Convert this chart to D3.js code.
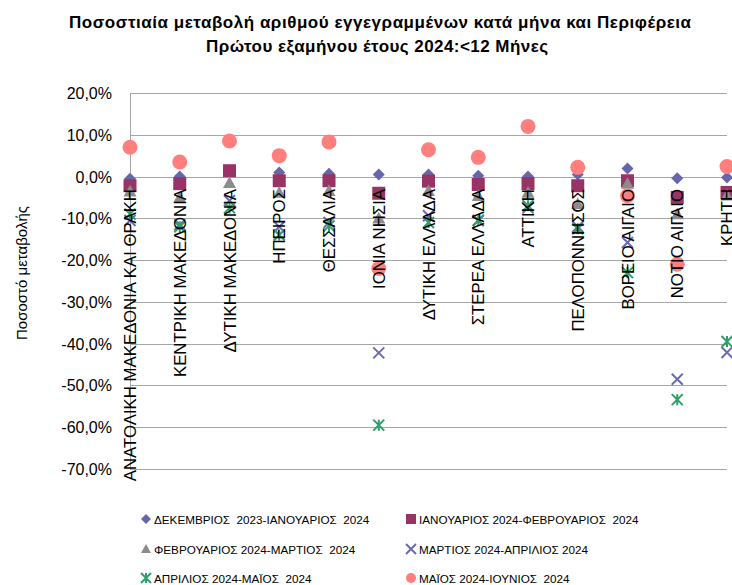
<!DOCTYPE html>
<html>
<head>
<meta charset="utf-8">
<script src="https://cdn.jsdelivr.net/npm/d3@7"></script>
<style>
  body { margin: 0; background: #fff; }
  svg { display: block; }
</style>
</head>
<body>
<div id="body"></div>
<script>
var categories = [
  "ΑΝΑΤΟΛΙΚΗ ΜΑΚΕΔΟΝΙΑ ΚΑΙ ΘΡΑΚΗ", "ΚΕΝΤΡΙΚΗ ΜΑΚΕΔΟΝΙΑ", "ΔΥΤΙΚΗ ΜΑΚΕΔΟΝΙΑ",
  "ΗΠΕΙΡΟΣ", "ΘΕΣΣΑΛΙΑ", "ΙΟΝΙΑ ΝΗΣΙΑ", "ΔΥΤΙΚΗ ΕΛΛΑΔΑ", "ΣΤΕΡΕΑ ΕΛΛΑΔΑ",
  "ΑΤΤΙΚΗ", "ΠΕΛΟΠΟΝΝΗΣΟΣ", "ΒΟΡΕΙΟ ΑΙΓΑΙΟ", "ΝΟΤΙΟ ΑΙΓΑΙΟ", "ΚΡΗΤΗ"
];

var decJan = [-0.5, 0.0, 1.2, 1.0, 0.7, 0.5, 0.5, 0.2, 0.0, 0.5, 1.9, -0.4, -0.2];
var janFeb = [-2.2, -1.7, 1.4, -1.0, -1.0, -4.0, -1.1, -1.9, -1.7, -2.2, -1.0, -5.0, -3.8];
var febMar = [-3.5, -5.0, -1.5, -3.8, -3.4, -10.0, -3.4, -4.6, -3.8, -6.5, -1.7, -9.0, -4.5];
var marApr = [-10.5, -11.5, -5.8, -12.0, -11.0, -42.2, -9.4, -10.5, -7.5, -12.0, -15.8, -48.5, -42.1];
var aprMay = [-9.0, -12.0, -7.5, -14.0, -11.8, -59.5, -11.0, -10.5, -7.0, -12.5, -23.0, -53.4, -39.5];
var mayJun = [7.0, 3.5, 8.5, 5.0, 8.3, -22.0, 6.4, 4.6, 12.0, 2.2, -4.6, -21.0, 2.4];

var seriesNames = [
  "ΔΕΚΕΜΒΡΙΟΣ  2023-ΙΑΝΟΥΑΡΙΟΣ  2024",
  "ΙΑΝΟΥΑΡΙΟΣ 2024-ΦΕΒΡΟΥΑΡΙΟΣ  2024",
  "ΦΕΒΡΟΥΑΡΙΟΣ 2024-ΜΑΡΤΙΟΣ  2024",
  "ΜΑΡΤΙΟΣ 2024-ΑΠΡΙΛΙΟΣ 2024",
  "ΑΠΡΙΛΙΟΣ 2024-ΜΑΪΟΣ  2024",
  "ΜΑΪΟΣ 2024-ΙΟΥΝΙΟΣ  2024"
];

var yTicks = [20, 10, 0, -10, -20, -30, -40, -50, -60, -70];

var width = 732;
var height = 585;
var font = "'Liberation Sans', Arial, sans-serif";

var colors = ["#6666aa", "#993366", "#8c8c8c", "#6a6ab4", "#2e9e6a", "#ff7f7f"];
var shapes = ["diamond", "square", "triangle", "x", "star", "circle"];
var allValues = [decJan, janFeb, febMar, marApr, aprMay, mayJun];

var svg = d3.select("#body").append("svg")
  .attr("width", width)
  .attr("height", height);

var xScale = d3.scalePoint().domain(categories).range([130, 727]);
var yScale = d3.scaleLinear().domain([-70, 20]).range([469, 93]);

// marker path generator
function markerPath(shape, s) {
  var h = s / 2;
  if (shape === "diamond") return "M0," + (-h) + "L" + h + ",0L0," + h + "L" + (-h) + ",0Z";
  if (shape === "square") return "M" + (-h) + "," + (-h) + "h" + s + "v" + s + "h" + (-s) + "Z";
  if (shape === "triangle") return "M0," + (-h) + "L" + h + "," + (h * 0.8) + "L" + (-h) + "," + (h * 0.8) + "Z";
  if (shape === "x") return "M" + (-h) + "," + (-h) + "L" + h + "," + h + "M" + h + "," + (-h) + "L" + (-h) + "," + h;
  if (shape === "star") return "M" + (-h) + "," + (-h) + "L" + h + "," + h + "M" + h + "," + (-h) + "L" + (-h) + "," + h + "M0," + (-h) + "L0," + h;
  return d3.symbol().type(d3.symbolCircle).size(Math.PI * h * h)();
}

function drawMarker(g, shape, color, s) {
  var p = g.append("path").attr("d", markerPath(shape, s));
  if (shape === "x" || shape === "star") {
    p.attr("fill", "none").attr("stroke", color).attr("stroke-width", 2);
  } else {
    p.attr("fill", color);
  }
  return p;
}

var markerSizes = [12, 13, 13, 11, 11, 15];

// TITLE
var title = svg.append("g").attr("font-family", font).attr("font-weight", "bold")
  .attr("font-size", 17).attr("text-anchor", "middle").attr("fill", "#000");
title.append("text").attr("x", 380).attr("y", 28)
  .attr("textLength", 622).attr("lengthAdjust", "spacing")
  .text("Ποσοστιαία  μεταβολή αριθμού εγγεγραμμένων  κατά μήνα και Περιφέρεια");
title.append("text").attr("x", 377).attr("y", 52)
  .attr("textLength", 342).attr("lengthAdjust", "spacing")
  .text("Πρώτου εξαμήνου έτους 2024:<12 Μήνες");

// GRIDLINES
svg.append("g")
  .selectAll("line")
  .data(yTicks)
  .enter()
  .append("line")
  .attr("x1", 130)
  .attr("x2", 727)
  .attr("y1", function (d) { return Math.round(yScale(d)) + 0.5; })
  .attr("y2", function (d) { return Math.round(yScale(d)) + 0.5; })
  .attr("stroke", "#a6a6a6")
  .attr("stroke-width", 1);

svg.append("line")
  .attr("x1", 130.5).attr("x2", 130.5)
  .attr("y1", yScale(20)).attr("y2", yScale(-70))
  .attr("stroke", "#a6a6a6");

// Y AXIS LABELS
svg.append("g")
  .selectAll("text")
  .data(yTicks)
  .enter()
  .append("text")
  .attr("x", 112)
  .attr("y", function (d) { return yScale(d) + 6; })
  .attr("text-anchor", "end")
  .attr("font-family", font)
  .attr("font-size", 16)
  .attr("fill", "#000")
  .text(function (d) { return d.toFixed(1).replace(".", ",") + "%"; });

svg.append("text")
  .attr("transform", "translate(27,273) rotate(-90)")
  .attr("text-anchor", "middle")
  .attr("font-family", font)
  .attr("font-size", 15)
  .attr("fill", "#000")
  .text("Ποσοστό μεταβολής");

// MARKERS
allValues.forEach(function (vals, si) {
  var g = svg.append("g");
  vals.forEach(function (v, i) {
    var mg = g.append("g")
      .attr("transform", "translate(" + xScale(categories[i]) + "," + yScale(v) + ")");
    drawMarker(mg, shapes[si], colors[si], markerSizes[si]);
  });
});

// CATEGORY LABELS (drawn over markers)
svg.append("g")
  .selectAll("text")
  .data(categories)
  .enter()
  .append("text")
  .attr("transform", function (d) {
    return "translate(" + (xScale(d) + 6) + "," + 189 + ") rotate(-90)";
  })
  .attr("text-anchor", "end")
  .attr("font-family", font)
  .attr("font-size", 16.8)
  .attr("fill", "#000")
  .text(function (d) { return d; });

// LEGEND
var legendPos = [
  [146, 519], [411, 519],
  [146, 549], [411, 549],
  [146, 578], [411, 578]
];
var legend = svg.append("g");
seriesNames.forEach(function (name, si) {
  var lg = legend.append("g")
    .attr("transform", "translate(" + legendPos[si][0] + "," + legendPos[si][1] + ")");
  drawMarker(lg, shapes[si], colors[si], 10);
  lg.append("text")
    .attr("x", 8)
    .attr("y", 4.5)
    .attr("font-family", font)
    .attr("font-size", 11.7)
    .attr("fill", "#000")
    .attr("xml:space", "preserve")
    .style("white-space", "pre")
    .text(name);
});
</script>
</body>
</html>
